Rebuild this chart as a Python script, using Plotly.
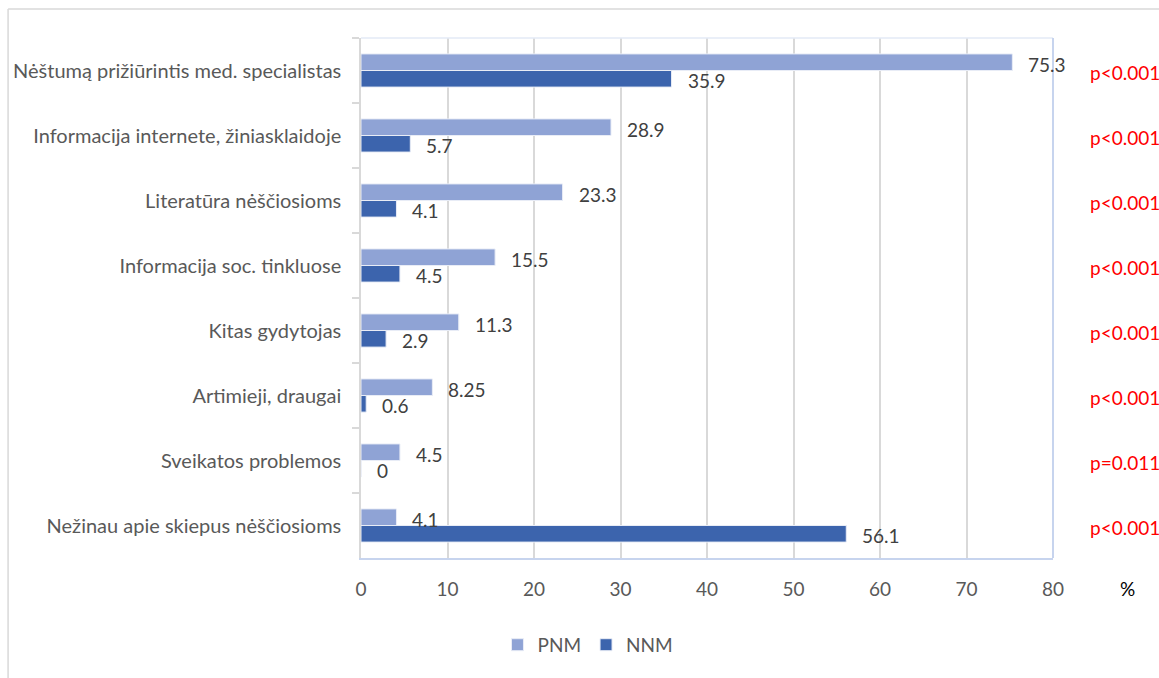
import plotly.graph_objects as go

categories = [
    "Nėštumą prižiūrintis med. specialistas",
    "Informacija internete, žiniasklaidoje",
    "Literatūra nėščiosioms",
    "Informacija soc. tinkluose",
    "Kitas gydytojas",
    "Artimieji, draugai",
    "Sveikatos problemos",
    "Nežinau apie skiepus nėščiosioms",
]
pnm = [75.3, 28.9, 23.3, 15.5, 11.3, 8.25, 4.5, 4.1]
nnm = [35.9, 5.7, 4.1, 4.5, 2.9, 0.6, 0, 56.1]
pnm_labels = ["75.3", "28.9", "23.3", "15.5", "11.3", "8.25", "4.5", "4.1"]
nnm_labels = ["35.9", "5.7", "4.1", "4.5", "2.9", "0.6", "0", "56.1"]
p_values = ["p<0.001", "p<0.001", "p<0.001", "p<0.001", "p<0.001", "p<0.001", "p=0.011", "p<0.001"]
x_ticks = [0, 10, 20, 30, 40, 50, 60, 70, 80]

FONT = "Lato"
GREY = "#595959"
NUM = 19

fig = go.Figure()
fig.add_trace(go.Bar(
    y=categories, x=pnm, orientation="h", name="PNM",
    marker=dict(color="#8FA3D5", line=dict(color="#E8ECF6", width=1)),
))
fig.add_trace(go.Bar(
    y=categories, x=nnm, orientation="h", name="NNM",
    marker=dict(color="#3C64AD", line=dict(color="#E8ECF6", width=1)),
))

annotations = []
for c, v, t in zip(categories, pnm, pnm_labels):
    annotations.append(dict(x=v, y=c, text=t, xref="x", yref="y", showarrow=False,
                            xanchor="left", xshift=14, yshift=6,
                            font=dict(family=FONT, size=NUM, color="#404040")))
for c, v, t in zip(categories, nnm, nnm_labels):
    annotations.append(dict(x=v, y=c, text=t, xref="x", yref="y", showarrow=False,
                            xanchor="left", xshift=14, yshift=-10,
                            font=dict(family=FONT, size=NUM, color="#404040")))
for c, p in zip(categories, p_values):
    annotations.append(dict(x=1.051, y=c, text=p, xref="paper", yref="y", showarrow=False,
                            xanchor="left", yshift=-2,
                            font=dict(family=FONT, size=NUM, color="#FF0000")))
annotations.append(dict(x=1.108, y=-0.058, text="%", xref="paper", yref="paper", showarrow=False,
                        xanchor="center", yanchor="middle",
                        font=dict(family=FONT, size=NUM, color="#000000")))

shapes = [
    dict(type="line", xref="paper", yref="paper", x0=-0.510, x1=1.2, y0=1.0558, y1=1.0558,
         line=dict(color="#D9D9D9", width=1.5)),
    dict(type="line", xref="paper", yref="paper", x0=-0.510, x1=-0.510, y0=1.0558, y1=-0.3,
         line=dict(color="#D9D9D9", width=1.5)),
    dict(type="line", xref="paper", yref="paper", x0=0, x1=1, y0=1, y1=1,
         line=dict(color="#E3EAF6", width=1.5)),
    dict(type="line", xref="paper", yref="paper", x0=1, x1=1, y0=0, y1=1,
         line=dict(color="#C7D4EE", width=2)),
]

fig.update_layout(
    width=1159, height=678,
    margin=dict(l=361, r=106, t=38, b=120),
    paper_bgcolor="white", plot_bgcolor="white",
    barmode="group", bargap=0.49, bargroupgap=0,
    font=dict(family=FONT, size=NUM, color=GREY),
    showlegend=True,
    legend=dict(orientation="h", x=0.328, xanchor="center", y=-0.167, yanchor="middle",
                font=dict(family=FONT, size=NUM, color=GREY), traceorder="normal",
                itemwidth=30),
    xaxis=dict(range=[0, 80], tickvals=x_ticks, showgrid=True, gridcolor="#D9D9D9", gridwidth=1.5,
               zeroline=False, showline=True, linecolor="#C7D4EE", linewidth=2,
               ticks="", ticklabelstandoff=13,
               tickfont=dict(family=FONT, size=NUM, color=GREY)),
    yaxis=dict(autorange="reversed", showgrid=False, showline=True, linecolor="#D9D9D9", linewidth=1.5,
               ticks="outside", tickson="boundaries", ticklen=7, tickcolor="#D9D9D9", tickwidth=1.5,
               ticklabelstandoff=14,
               tickfont=dict(family=FONT, size=20, color=GREY)),
    annotations=annotations,
    shapes=shapes,
)

fig.write_html("out.html", config={"displayModeBar": False},
               post_script="document.body.style.margin='0';document.body.style.overflow='hidden';")
